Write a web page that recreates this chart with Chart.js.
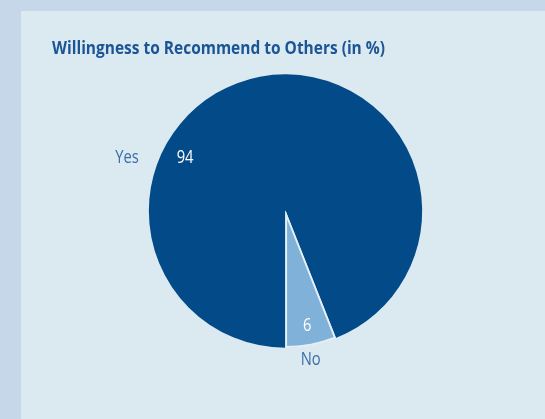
<!DOCTYPE html>
<html>
<head>
<meta charset="utf-8">
<script src="https://cdn.jsdelivr.net/npm/chart.js@4"></script>
<style>
  html, body { margin: 0; padding: 0; width: 545px; height: 419px; overflow: hidden; background: #c5d7e8; }
  #panel { position: absolute; left: 21px; top: 11px; right: 0; bottom: 0; background: #dbe9f1; }
  #wrap { position: absolute; left: 0; top: 0; width: 545px; height: 419px; }
</style>
</head>
<body>
<div id="panel"></div>
<div id="wrap"><canvas id="c" width="545" height="419"></canvas></div>
<script>
// Survey answers
const categories = ['Yes', 'No'];
const shares = [94, 6];
const valueLabels = ['94', '6'];
const chartTitle = 'Willingness to Recommend to Others (in %)';

const sliceColors = ['#034b88', '#80b1d9'];
const labelFont = '18px "Open Sans", "Noto Sans", sans-serif';
const narrow = 0.82; // horizontal squeeze for a condensed look

// Label anchors: angle (deg, clockwise from top; null = slice middle) and
// radius factors for the inner value and the outer category name.
const labelPlacement = [
  { inner: { angle: 298, r: 0.83 }, outer: { angle: 288.6, r: 1.22 } },
  { inner: { angle: null, r: 0.85 }, outer: { angle: 170.4, r: 1.10 } }
];

function narrowText(ctx, text, x, y) {
  const w = ctx.measureText(text).width;
  ctx.fillText(text, x, y, w * narrow);
}

const titlePlugin = {
  id: 'panelTitle',
  afterDraw(chart) {
    const ctx = chart.ctx;
    ctx.save();
    ctx.font = 'bold 18px "Open Sans", "Noto Sans", sans-serif';
    ctx.fillStyle = '#1b5595';
    ctx.textAlign = 'left';
    ctx.textBaseline = 'middle';
    ctx.fillText(chartTitle, 52, 48.5, 333);
    ctx.restore();
  }
};

const sliceLabels = {
  id: 'sliceLabels',
  afterDatasetsDraw(chart) {
    const ctx = chart.ctx;
    const meta = chart.getDatasetMeta(0);
    ctx.save();
    ctx.font = labelFont;
    ctx.textAlign = 'center';
    ctx.textBaseline = 'middle';
    meta.data.forEach((arc, i) => {
      const { x, y, startAngle, endAngle, outerRadius } = arc.getProps(['x', 'y', 'startAngle', 'endAngle', 'outerRadius'], true);
      const mid = (startAngle + endAngle) / 2;
      const place = labelPlacement[i];
      const pos = (spec) => {
        const a = spec.angle === null ? mid : (spec.angle - 90) * Math.PI / 180;
        return [x + Math.cos(a) * outerRadius * spec.r, y + Math.sin(a) * outerRadius * spec.r];
      };
      const [ix, iy] = pos(place.inner);
      ctx.fillStyle = '#ffffff';
      narrowText(ctx, valueLabels[i], ix, iy);
      const [ox, oy] = pos(place.outer);
      ctx.fillStyle = '#3a6ea7';
      narrowText(ctx, categories[i], ox, oy);
    });
    ctx.restore();
  }
};

new Chart(document.getElementById('c'), {
  type: 'pie',
  data: {
    labels: categories,
    datasets: [{
      data: shares,
      backgroundColor: sliceColors,
      borderColor: ['#034b88', '#e6eff5'],
      borderWidth: [0, 1.6],
      borderAlign: 'inner'
    }]
  },
  options: {
    responsive: false,
    animation: false,
    rotation: 180,
    layout: { padding: { left: 148.5, right: 122.5, top: 74, bottom: 71 } },
    plugins: {
      legend: { display: false },
      tooltip: { enabled: false },
      title: { display: false }
    }
  },
  plugins: [titlePlugin, sliceLabels]
});
</script>
</body>
</html>
